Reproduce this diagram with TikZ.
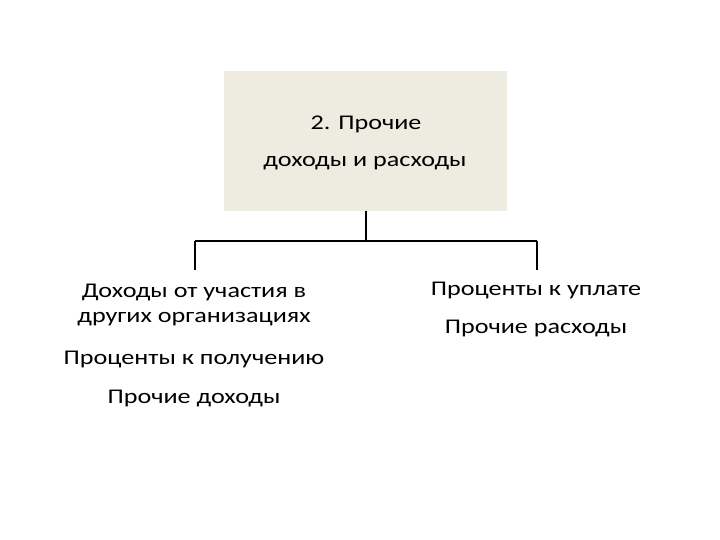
\documentclass[tikz,border=0pt]{standalone}
\usepackage{fontspec}
\setmainfont{Carlito}[FakeStretch=1.25]
\definecolor{boxfill}{HTML}{EEECE1}
\begin{document}
\begin{tikzpicture}[x=1bp,y=-1bp,
  txt/.style={inner sep=0pt,anchor=center,font=\fontsize{21}{25}\selectfont},
  conn/.style={draw=black,line width=2bp}]
\useasboundingbox (0,0) rectangle (720,540);
\node[fill=boxfill,minimum width=283bp,minimum height=140bp,inner sep=0pt] (top) at (365.5,141) {};
\node[txt] (t1) at (366,124) {2. Прочие};
\node[txt] (t2) at (365,163) {доходы и расходы};
\coordinate (hub) at (366,241);
\coordinate (hl) at (195,241);
\coordinate (hr) at (537,241);
\coordinate (el) at (195,270);
\coordinate (er) at (537,270);
\draw[conn] (top.south -| hub) -- (hub);
\draw[conn] (hl) -- (hr);
\draw[conn] (hl) -- (el);
\draw[conn] (hr) -- (er);
\node[txt] (l1) at (194,292.5) {Доходы от участия в};
\node[txt] (l2) at (194,319.5) {других организациях};
\node[txt] (l3) at (194,359.5) {Проценты к получению};
\node[txt] (l4) at (194,398.5) {Прочие доходы};
\node[txt] (r1) at (536,290.5) {Проценты к уплате};
\node[txt] (r2) at (536,328.5) {Прочие расходы};
\end{tikzpicture}
\end{document}
